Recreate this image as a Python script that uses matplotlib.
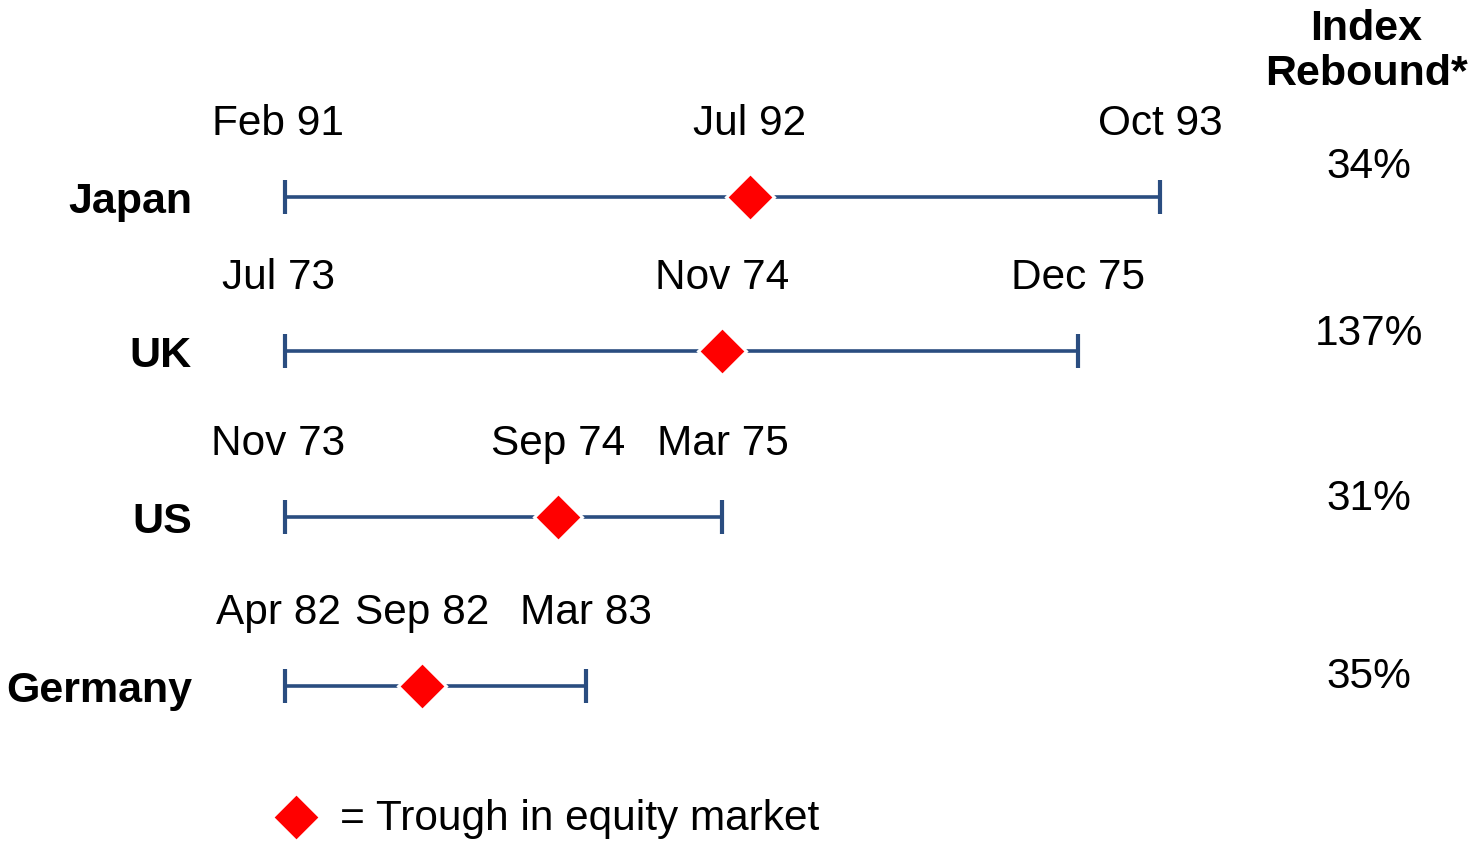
import matplotlib
matplotlib.use('Agg')
import matplotlib.pyplot as plt

plt.rcParams['font.family'] = ['Liberation Sans', 'DejaVu Sans']

# data
countries = ['Japan', 'UK', 'US', 'Germany']
start_lbl = ['Feb 91', 'Jul 73', 'Nov 73', 'Apr 82']
trough_lbl = ['Jul 92', 'Nov 74', 'Sep 74', 'Sep 82']
end_lbl = ['Oct 93', 'Dec 75', 'Mar 75', 'Mar 83']
trough_m = [17, 16, 10, 5]     # months from start to trough
end_m = [32, 29, 16, 11]       # months from start to end
rebound = ['34%', '137%', '31%', '35%']

# layout (pixel rows, y down)
row_y = [197, 351, 517, 686]
val_y = [178, 345, 510, 688]
px_per_m = 27.34
x0 = 285

line_col = '#2a4d80'
fs = 30.5
fs_b = 31
dm = 24   # diamond size

fig = plt.figure(figsize=(14.75, 8.41), dpi=100)
ax = fig.add_axes([0, 0, 1, 1])
ax.set_xlim(-x0 / px_per_m, (1475 - x0) / px_per_m)
ax.set_ylim(841, 0)
ax.axis('off')

for i, c in enumerate(countries):
    y = row_y[i]
    ax.plot([0, end_m[i]], [y, y], color=line_col, lw=2.6, solid_capstyle='butt', zorder=2)
    ax.plot([0, end_m[i]], [y, y], ls='none', marker='|', ms=24, mew=3,
            color=line_col, zorder=2)
    ax.plot(trough_m[i], y, marker='D', ms=dm, mfc='red', mec='white', mew=2.2, zorder=3)

    # date labels
    yb = y - 62
    ax.text(-0.25, yb, start_lbl[i], ha='center', va='baseline', fontsize=fs)
    ax.text(trough_m[i], yb, trough_lbl[i], ha='center', va='baseline', fontsize=fs)
    ax.text(end_m[i], yb, end_lbl[i], ha='center', va='baseline', fontsize=fs)

    # country
    ax.text(-93 / px_per_m, y + 16, c, ha='right', va='baseline', fontsize=fs_b, fontweight='bold')

    # rebound value
    ax.text((1369 - x0) / px_per_m, val_y[i], rebound[i], ha='center', va='baseline', fontsize=fs)

# header
hx = (1366 - x0) / px_per_m
ax.text(hx, 40, 'Index', ha='center', va='baseline', fontsize=fs_b, fontweight='bold')
ax.text(hx, 85, 'Rebound*', ha='center', va='baseline', fontsize=fs_b, fontweight='bold')

# legend
ax.plot((296 - x0) / px_per_m, 817, marker='D', ms=dm, mfc='red', mec='white', mew=2.2)
ax.text((340 - x0) / px_per_m, 830, '= Trough in equity market', ha='left', va='baseline', fontsize=fs)

fig.savefig('out.png', dpi=100)
